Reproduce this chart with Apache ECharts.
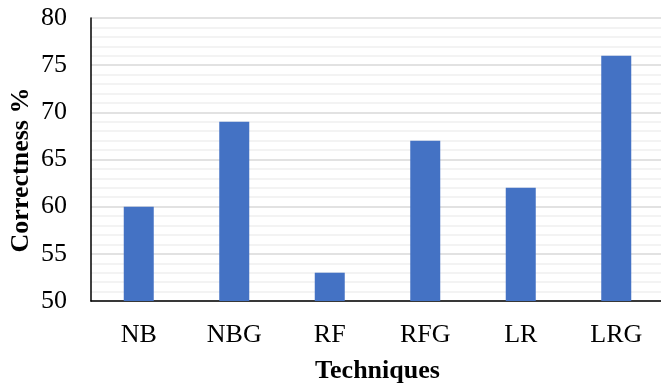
<!DOCTYPE html>
<html><head><meta charset="utf-8">
<script src="https://cdn.jsdelivr.net/npm/echarts@6/dist/echarts.min.js"></script>
<style>html,body{margin:0;padding:0;background:#fff}#c{width:661px;height:383px}</style>
</head><body><div id="c"></div>
<script>
const categories = ["NB", "NBG", "RF", "RFG", "LR", "LRG"];
const values = [60, 69, 53, 67, 62, 76];
const yTicks = [50, 55, 60, 65, 70, 75, 80];
const yTitle = "Correctness %";
const xTitle = "Techniques";

const chart = echarts.init(document.getElementById('c'));
const font = '"Liberation Serif", "Times New Roman", serif';
chart.setOption({
  animation: false,
  grid: { left: 91, right: -3, top: 18, bottom: 82, containLabel: false, outerBoundsMode: 'none' },
  xAxis: {
    type: 'category', data: categories,
    axisLine: { lineStyle: { color: '#000', width: 1.5 } },
    axisTick: { show: false },
    axisLabel: { color: '#000', fontFamily: font, fontSize: 26, margin: 21 },
    name: xTitle, nameLocation: 'middle', nameGap: 57,
    nameTextStyle: { color: '#000', fontFamily: font, fontSize: 26, fontWeight: 'bold' }
  },
  yAxis: {
    type: 'value', min: yTicks[0], max: yTicks[yTicks.length - 1], interval: 5,
    axisLine: { show: true, lineStyle: { color: '#000', width: 1.5 } },
    axisTick: { show: false },
    axisLabel: { color: '#000', fontFamily: font, fontSize: 26, margin: 24 },
    splitLine: { lineStyle: { color: '#d9d9d9', width: 1.5 } },
    minorTick: { show: false, splitNumber: 5 },
    minorSplitLine: { show: true, lineStyle: { color: '#f0f0f0', width: 1.5 } }
  },
  graphic: [{
    type: 'text', rotation: Math.PI / 2, x: 21, y: 170,
    style: { text: yTitle, fill: '#000', font: 'bold 26px ' + font, textAlign: 'center', textVerticalAlign: 'middle' }
  }],
  series: [{
    type: 'bar', data: values, barWidth: 30,
    itemStyle: { color: '#4472c4' }
  }]
});
</script></body></html>
